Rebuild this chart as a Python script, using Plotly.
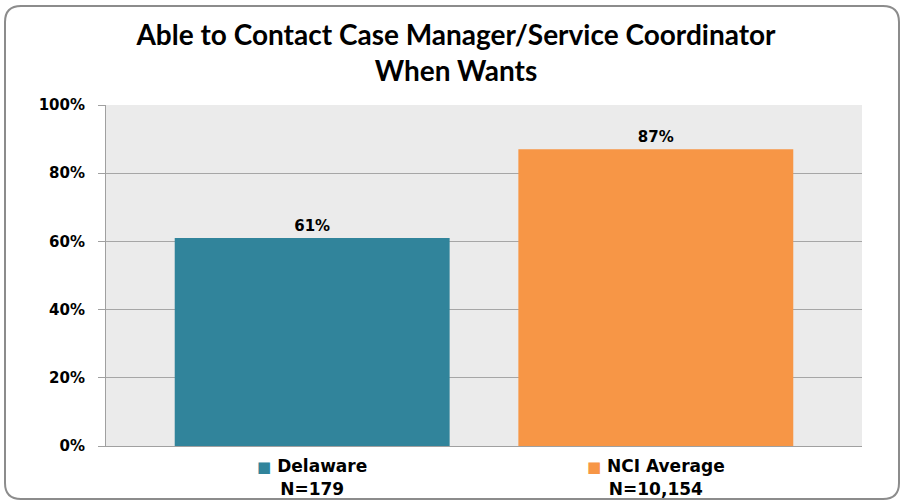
import plotly.graph_objects as go

# Data
categories = ['Delaware', 'NCI Average']
sample_sizes = ['N=179', 'N=10,154']
values = [61, 87]
bar_colors = ['#31849B', '#F79646']
y_ticks = [0, 20, 40, 60, 80, 100]

W, H = 902, 501
ML, MR, MT, MB = 106, 40, 105, 55
PW, PH = W - ML - MR, H - MT - MB


def px(x):
    return (x - ML) / PW


def py(y):
    return (H - MB - y) / PH


# Tick labels with a coloured square before the name
tick_text = [
    f"<span style='color:{c};font-size:15px'>■</span> {n}<br>{s}"
    for n, s, c in zip(categories, sample_sizes, bar_colors)
]

fig = go.Figure()
fig.add_trace(go.Bar(
    x=list(range(len(categories))),
    y=values,
    width=0.8,
    marker=dict(color=bar_colors, line=dict(width=0)),
    text=[f"{v}%" for v in values],
    textposition='outside',
    textfont=dict(family='DejaVu Sans', size=15, color='#000000', weight='bold'),
    cliponaxis=False,
    showlegend=False,
))

# Rounded frame around the chart
r = 16
x0, x1, y0, y1 = 5, 899, 6, 499
path = (
    f"M {px(x0 + r)},{py(y0)} L {px(x1 - r)},{py(y0)} "
    f"Q {px(x1)},{py(y0)} {px(x1)},{py(y0 + r)} "
    f"L {px(x1)},{py(y1 - r)} Q {px(x1)},{py(y1)} {px(x1 - r)},{py(y1)} "
    f"L {px(x0 + r)},{py(y1)} Q {px(x0)},{py(y1)} {px(x0)},{py(y1 - r)} "
    f"L {px(x0)},{py(y0 + r)} Q {px(x0)},{py(y0)} {px(x0 + r)},{py(y0)} Z"
)
fig.add_shape(type='path', path=path, xref='paper', yref='paper',
              line=dict(color='#8C8C8C', width=2), layer='below')

fig.update_layout(
    width=W, height=H,
    margin=dict(l=ML, r=MR, t=MT, b=MB),
    paper_bgcolor='white',
    plot_bgcolor='#EBEBEB',
    title=dict(
        text='Able to Contact Case Manager/Service Coordinator<br>When Wants',
        font=dict(family='Lato', size=28, color='#000000', weight='bold'),
        x=456 / W, xanchor='center', y=1 - 45 / H, yanchor='middle',
    ),
    xaxis=dict(
        range=[-0.6, 1.6],
        tickmode='array',
        tickvals=list(range(len(categories))),
        ticktext=tick_text,
        tickfont=dict(family='DejaVu Sans', size=17, color='#000000', weight='bold'),
        showgrid=False,
        showline=True, linecolor='#A0A0A0', linewidth=1,
        ticks='', ticklabelstandoff=5,
        automargin=False,
    ),
    yaxis=dict(
        range=[0, 100],
        tickvals=y_ticks,
        ticktext=[f"{t}%" for t in y_ticks],
        tickfont=dict(family='DejaVu Sans', size=15, color='#000000', weight='bold'),
        showgrid=True, gridcolor='#A6A6A6', gridwidth=1,
        showline=True, linecolor='#A0A0A0', linewidth=1,
        ticks='outside', ticklen=7, tickcolor='#A0A0A0',
        ticklabelstandoff=10,
        zeroline=False,
        automargin=False,
    ),
    bargap=0.2,
)

fig.write_html("out.html", config={'displayModeBar': False},
               post_script="document.body.style.margin='0';")
